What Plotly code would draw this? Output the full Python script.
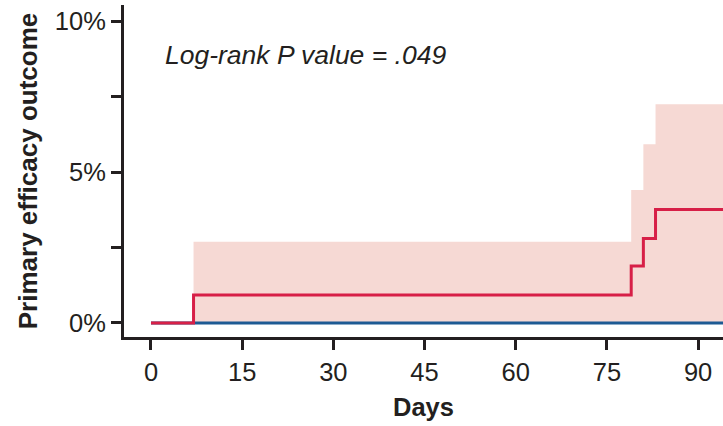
import plotly.graph_objects as go

# Data
red_days = [0, 7, 79, 81, 83, 95]
red_pct = [0, 0.93, 1.89, 2.80, 3.76, 3.76]
ci_days = [7, 79, 81, 83, 95]
ci_upper = [2.69, 4.40, 5.92, 7.24, 7.24]
blue_days = [0, 95]
blue_pct = [0, 0]
y_tickvals = [0, 2.5, 5, 7.5, 10]
y_ticktext = ["0%", "", "5%", "", "10%"]
x_tickvals = [0, 15, 30, 45, 60, 75, 90]

FONT = "Liberation Sans, Arial, Helvetica, sans-serif"
AX = "#231f20"

fig = go.Figure()
fig.add_trace(go.Scatter(x=ci_days, y=ci_upper, mode="lines", line=dict(width=0, shape="hv"),
                         fill="tozeroy", fillcolor="#f6d9d4", hoverinfo="skip", showlegend=False))
fig.add_trace(go.Scatter(x=blue_days, y=blue_pct, mode="lines",
                         line=dict(color="#1d5a93", width=3), showlegend=False))
fig.add_trace(go.Scatter(x=red_days, y=red_pct, mode="lines",
                         line=dict(color="#d71f47", width=3, shape="hv"), showlegend=False))

fig.add_annotation(x=163, y=8.87, xref="x domain", yref="y", text="<i>Log-rank P value = .049</i>",
                   showarrow=False, xanchor="left", yanchor="middle",
                   font=dict(family=FONT, size=26.5, color=AX))
# place annotation using paper coordinates (x pixel 163 -> paper fraction)
fig.layout.annotations[0].update(xref="paper", x=(163 - 124) / (723 - 124))

fig.update_layout(
    width=723, height=426,
    margin=dict(l=124, r=0, t=5, b=89),
    plot_bgcolor="white", paper_bgcolor="white",
    font=dict(family=FONT, size=25.5, color=AX),
    xaxis=dict(range=[-4.44, 94.1], tickvals=x_tickvals, showline=True, linecolor=AX, linewidth=3,
               ticks="outside", ticklen=10, tickwidth=3, tickcolor=AX, showgrid=False, zeroline=False,
               title=dict(text="<b>Days</b>", font=dict(size=25.5), standoff=14)),
    yaxis=dict(range=[-0.464, 10.53], tickvals=y_tickvals, ticktext=y_ticktext, showline=True,
               linecolor=AX, linewidth=3, ticks="outside", ticklen=10, tickwidth=3, tickcolor=AX,
               showgrid=False, zeroline=False,
               title=dict(text="<b>Primary efficacy outcome</b>", font=dict(size=26), standoff=10)),
)

fig.write_html("out.html")
